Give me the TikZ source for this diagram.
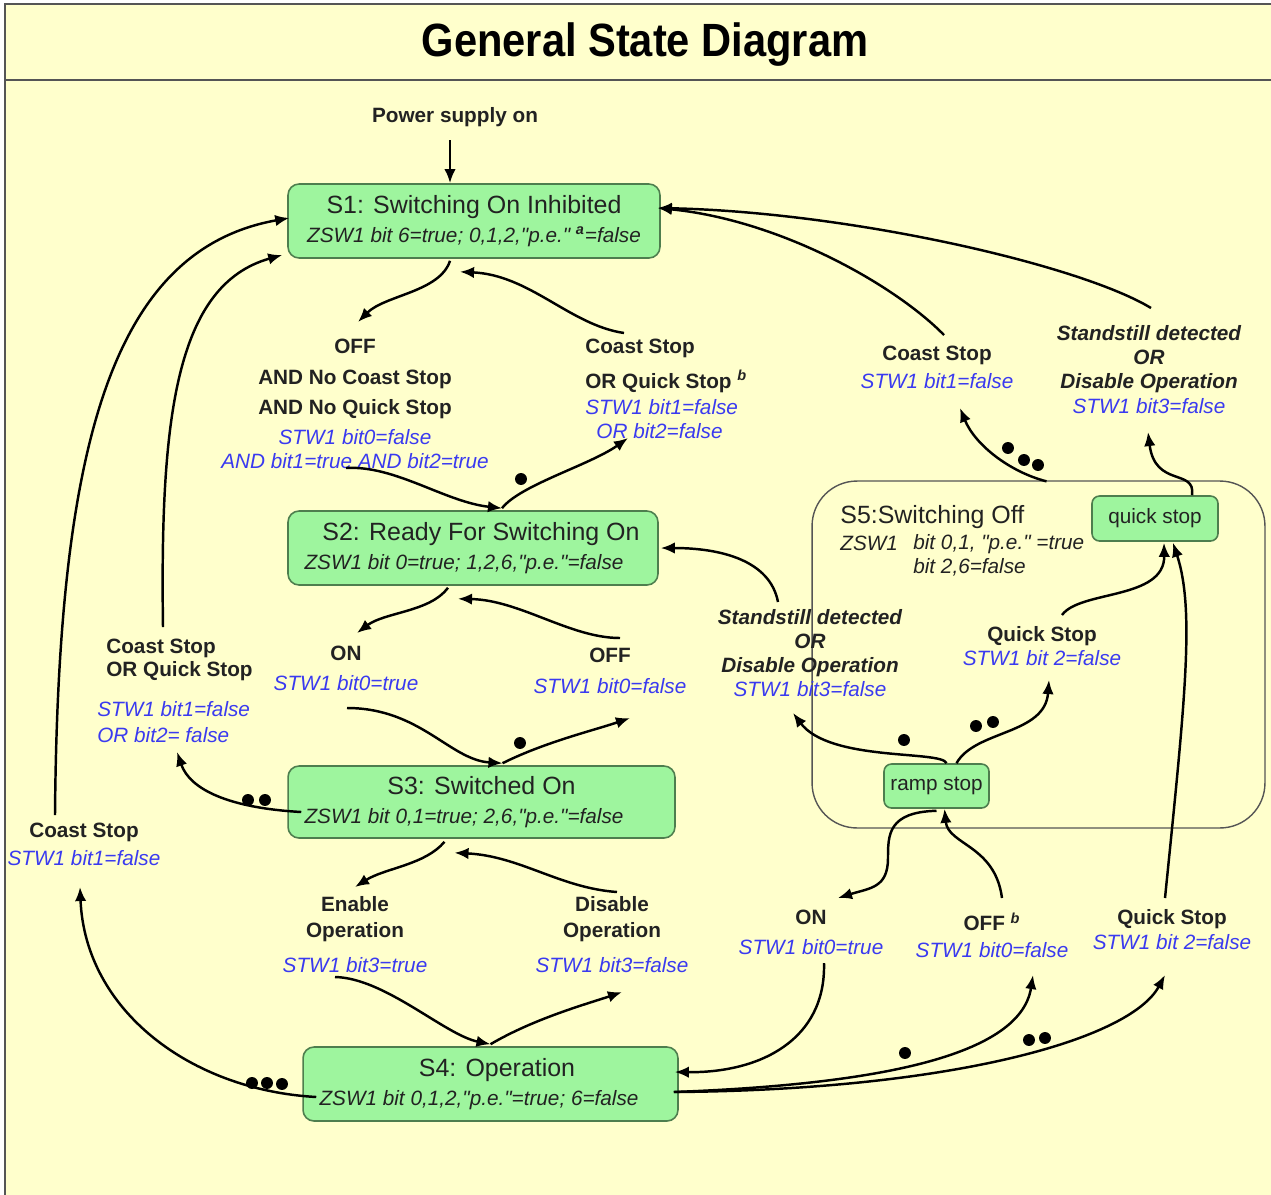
\documentclass[tikz,border=0pt]{standalone}
\usepackage{fontspec}
\setmainfont{Liberation Sans}
\newfontfamily\quotefont{Liberation Sans}
\usepackage{graphicx}
\usepackage{xcolor}
\usepackage{tikz}
\usetikzlibrary{calc,arrows.meta}
\definecolor{paper}{HTML}{FFFFCC}
\definecolor{rule}{HTML}{555555}
\definecolor{leaf}{HTML}{9EF59E}
\definecolor{leafedge}{HTML}{4E7E4E}
\definecolor{ink}{HTML}{222222}
\definecolor{stwblue}{HTML}{3A3AF0}
\tikzset{
  heading/.style={font=\bfseries\fontsize{23.7}{28}\selectfont, text=black},
  state/.style={draw=leafedge, fill=leaf, rounded corners=0.22cm, line width=0.9pt,
    inner sep=0pt, align=center, text=ink, font=\fontsize{14.2}{16.5}\selectfont},
  substate/.style={draw=leafedge, fill=leaf, rounded corners=0.15cm, line width=0.9pt,
    inner sep=0pt, text=ink, font=\fontsize{11.8}{14}\selectfont},
  superstate/.style={draw=rule, rounded corners=0.9cm, line width=0.8pt, inner sep=0pt},
  lab/.style={align=center, inner sep=0pt, text=ink, font=\bfseries\fontsize{11.8}{13.7}\selectfont},
  labi/.style={lab, font=\bfseries\itshape\fontsize{11.8}{13.7}\selectfont},
  s5text/.style={inner sep=0pt, text=ink, font=\itshape\fontsize{11.8}{13.7}\selectfont},
  trans/.style={draw=black, line width=1.4pt, -{Latex[length=8pt,width=6.5pt]}},
  dot/.style={circle, fill=black, inner sep=0pt, minimum size=6.8pt},
  frameline/.style={draw=rule, line width=1.2pt}
}
\newcommand{\stw}[1]{{\color{stwblue}\mdseries\itshape #1}}
\newcommand{\zsw}[1]{{\fontsize{11.8}{16.5}\selectfont\itshape #1}}
\newcommand{\dq}{{\quotefont"}}
\newcommand{\DotAt}[2]{\node[dot] (#1) at (#2) {};}

\begin{document}
\begin{tikzpicture}[x=0.02cm, y=-0.02cm]
  \useasboundingbox (0,0) rectangle (1271,1194);
  \clip (0,0) rectangle (1271,1194);
  \fill[white] (0,0) rectangle (1271,1194);
  \draw[frameline, fill=paper] (5,4) rectangle (1290,1210);
  \draw[frameline] (5,80) -- (1290,80);
  \node[heading] (ttl) at (645,45) {\scalebox{1}[1.12]{General State Diagram}};

  % states
  \node[state, minimum width=7.44cm, minimum height=1.48cm] (s1) at (474,221)
    {S1: Switching On Inhibited\\ \zsw{ZSW1 bit 6=true; 0,1,2,\dq p.e.\dq{} \textsuperscript{\bfseries a}=false}};
  \node[state, minimum width=7.40cm, minimum height=1.48cm] (s2) at (473,548)
    {\hspace*{0.32cm}S2: Ready For Switching On\\ \zsw{ZSW1 bit 0=true; 1,2,6,\dq p.e.\dq=false}\kern0.36cm};
  \node[state, minimum width=7.74cm, minimum height=1.44cm] (s3) at (481.5,802)
    {S3: Switched On\\ \zsw{ZSW1 bit 0,1=true; 2,6,\dq p.e.\dq=false}\kern0.7cm};
  \node[state, minimum width=7.50cm, minimum height=1.48cm] (s4) at (490.5,1084)
    {\hspace*{0.26cm}S4: Operation\\ \zsw{ZSW1 bit 0,1,2,\dq p.e.\dq=true; 6=false}\kern0.46cm};

  \node[superstate, minimum width=9.06cm, minimum height=6.94cm] (s5) at (1038.5,654.5) {};
  \node[s5text, font=\fontsize{14.2}{16.5}\selectfont, anchor=west] (s5name) at (840,517) {S5:Switching Off};
  \node[s5text, anchor=west] (s5zsw) at (840,543) {ZSW1};
  \node[s5text, anchor=west, align=left] (s5bits) at (913,555) {bit 0,1, \dq p.e.\dq{} =true\\bit 2,6=false};
  \node[substate, minimum width=2.52cm, minimum height=0.90cm] (qstop) at (1155,518.5) {quick stop};
  \node[substate, minimum width=2.10cm, minimum height=0.88cm] (rstop) at (936.5,786) {ramp stop};

  % labels
  \node[lab] (pwr) at (455,117) {Power supply on};
  \node[lab] (offA) at (355,403.5) {OFF\\[4pt]AND No Coast Stop\\[3.4pt]AND No Quick Stop\\[3.4pt]\stw{STW1 bit0=false}\\\stw{AND bit1=true AND bit2=true}};
  \node[lab, align=left, anchor=west] (csA) at (585,388.5) {Coast Stop\\[6.3pt]OR Quick Stop \textsuperscript{\itshape b}\\[1.1pt]\stw{STW1 bit1=false}\\\hspace*{6.3pt}\stw{OR bit2=false}};
  \node[lab] (onA) at (346,668) {ON\\[3.4pt]\stw{STW1 bit0=true}};
  \node[lab] (offB) at (610,670.5) {OFF\\[4pt]\stw{STW1 bit0=false}};
  \node[lab] (enA) at (355,934.5) {Enable\\[1.1pt]Operation\\[6.3pt]\stw{STW1 bit3=true}};
  \node[lab] (disA) at (612,934.5) {Disable\\[1.1pt]Operation\\[6.3pt]\stw{STW1 bit3=false}};
  \node[lab, align=left, anchor=west] (csL) at (106,659.5) {Coast Stop\\[-0.6pt]OR Quick Stop};
  \node[lab, align=left, anchor=west] (csLb) at (97,722) {\stw{STW1 bit1=false}\\[1.1pt]\stw{OR bit2= false}};
  \node[lab] (csF) at (84,844) {Coast Stop\\[2.2pt]\stw{STW1 bit1=false}};
  \node[lab] (csR) at (937,367) {Coast Stop\\[2.2pt]\stw{STW1 bit1=false}};
  \node[labi] (ssR) at (1149,369.5) {Standstill detected\\OR\\Disable Operation\\\stw{STW1 bit3=false}};
  \node[labi] (ssM) at (810,653) {Standstill detected\\OR\\Disable Operation\\\stw{STW1 bit3=false}};
  \node[lab] (qsM) at (1042,646) {Quick Stop\\\stw{STW1 bit 2=false}};
  \node[lab] (onB) at (811,932) {ON\\[3.4pt]\stw{STW1 bit0=true}};
  \node[lab] (offC) at (992,935) {OFF \textsuperscript{\itshape b}\\[1.1pt]\stw{STW1 bit0=false}};
  \node[lab] (qsB) at (1172,929.5) {Quick Stop\\[0.5pt]\stw{STW1 bit 2=false}};

  % free ends at the labels
  \coordinate (pwrOut) at (450,140);
  \coordinate (offIn) at (358,322);   \coordinate (offOut) at (346,468);
  \coordinate (csIn) at (628,438);    \coordinate (csOut) at (624,333);
  \coordinate (onIn) at (357,633);    \coordinate (onOut) at (347,708);
  \coordinate (offbIn) at (630,718);  \coordinate (offbOut) at (620,638);
  \coordinate (enIn) at (355,887);    \coordinate (enOut) at (335,977);
  \coordinate (disIn) at (622,992);   \coordinate (disOut) at (617,892);
  \coordinate (cslIn) at (177,752);   \coordinate (cslOut) at (163,627);
  \coordinate (csfIn) at (80,887);    \coordinate (csfOut) at (55,815);
  \coordinate (csrIn) at (960,408);   \coordinate (csrOut) at (944,335);
  \coordinate (ssrIn) at (1148,432);  \coordinate (ssrOut) at (1151,308);
  \coordinate (ssmIn) at (793,713);   \coordinate (ssmOut) at (778,602);
  \coordinate (qsmIn) at (1049,680);  \coordinate (qsmOut) at (1062,615);
  \coordinate (onbIn) at (838,898);   \coordinate (onbOut) at (824,963);
  \coordinate (offcIn) at (1033,975); \coordinate (offcOut) at (1002,898);
  \coordinate (qsbIn) at (1165,975);  \coordinate (qsbOut) at (1165,898);

  % S1 / S2
  \draw[trans] (pwrOut) -- (s1.north -| pwrOut);
  \draw[trans] ($(s1.south)+(-24,2)$) .. controls (440,292) and (385,295) .. (offIn);
  \draw[trans] (csOut) .. controls (570,325) and (530,275) .. ($(s1.south)+(-14,13)$);
  \draw[trans] (offOut) .. controls (395,465) and (445,502) .. ($(s2.north)+(29,-2)$);
  \draw[trans] ($(s2.north)+(29,-2)$) .. controls (520,485) and (590,465) .. (csIn);
  \DotAt{d1}{521,479}

  % S2 / S3
  \draw[trans] ($(s2.south)+(-25,2)$) .. controls (430,612) and (385,612) .. (onIn);
  \draw[trans] (offbOut) .. controls (570,638) and (520,600) .. ($(s2.south)+(-15,13)$);
  \draw[trans] (onOut) .. controls (420,708) and (450,760) .. ($(s3.north)+(21,-2)$);
  \draw[trans] ($(s3.north)+(21,-2)$) .. controls (545,742) and (595,730) .. (offbIn);
  \DotAt{d2}{520,743}

  % S3 / S4
  \draw[trans] ($(s3.south)+(-37,3)$) .. controls (425,865) and (385,868) .. (enIn);
  \draw[trans] (disOut) .. controls (560,888) and (520,856) .. ($(s3.south)+(-27,14)$);
  \draw[trans] (enOut) .. controls (385,978) and (445,1035) .. ($(s4.north)+(0,-2)$);
  \draw[trans] ($(s4.north)+(0,-2)$) .. controls (535,1018) and (590,1003) .. (disIn);

  % left side
  \draw[trans] ($(s3.west)+(14,10)$) .. controls (230,808) and (190,790) .. (cslIn);
  \DotAt{d3}{248,800} \DotAt{d4}{265,800}
  \draw[trans] (cslOut) .. controls (160,420) and (175,285) .. ($(s1.west)+(-5,34)$);
  \draw[trans] (csfOut) .. controls (58,450) and (110,250) .. ($(s1.west)+(2,-3)$);
  \draw[trans] ($(s4.west)+(14,13)$) .. controls (190,1090) and (85,1010) .. (csfIn);
  \DotAt{d5}{252,1083} \DotAt{d6}{267,1083} \DotAt{d7}{282,1084}

  % S5 to S1
  \draw[trans] (csrOut) .. controls (895,285) and (780,220) .. ($(s1.east)+(-3,-13)$);
  \draw[trans] (ssrOut) .. controls (1080,265) and (850,212) .. ($(s1.east)+(-3,-13)$);
  \draw[trans] ($(s5.north)+(8,1)$) .. controls (1010,472) and (975,445) .. (csrIn);
  \DotAt{d8}{1008,448} \DotAt{d9}{1024,460} \DotAt{d10}{1038,465}
  \draw[trans] ($(qstop.north)+(37,0)$) .. controls (1196,468) and (1155,488) .. (ssrIn);

  % inside S5
  \draw[trans] (ssmOut) .. controls (770,560) and (720,548) .. ($(s2.east)+(2,0)$);
  \draw[trans] ($(rstop.north)+(10,0)$) .. controls (942,750) and (830,762) .. (ssmIn);
  \DotAt{d11}{904,740}
  \draw[trans] ($(rstop.north)+(20,0)$) .. controls (975,730) and (1045,735) .. (qsmIn);
  \DotAt{d12}{976,726} \DotAt{d13}{993,722}
  \draw[trans] (qsmOut) .. controls (1080,590) and (1165,600) .. ($(qstop.south)+(9,1)$);
  \draw[trans] (qsbOut) .. controls (1185,700) and (1195,610) .. ($(qstop.south)+(18,1)$);

  % S4 and ramp stop
  \draw[trans] ($(rstop.south)+(0,2)$) .. controls (888,812) and (888,835) .. (888,858)
    .. controls (888,888) and (870,888) .. (onbIn);
  \draw[trans] (offcOut) .. controls (995,845) and (948,845) .. ($(rstop.south)+(8,0)$);
  \draw[trans] (onbOut) .. controls (826,1040) and (760,1073) .. ($(s4.east)+(-4,-12)$);
  \draw[trans] ($(s4.east)+(-5,8)$) .. controls (860,1085) and (1020,1060) .. (offcIn);
  \DotAt{d14}{905,1053}
  \draw[trans] ($(s4.east)+(-5,8)$) .. controls (950,1090) and (1130,1040) .. (qsbIn);
  \DotAt{d15}{1029,1040} \DotAt{d16}{1045,1038}
\end{tikzpicture}
\end{document}
